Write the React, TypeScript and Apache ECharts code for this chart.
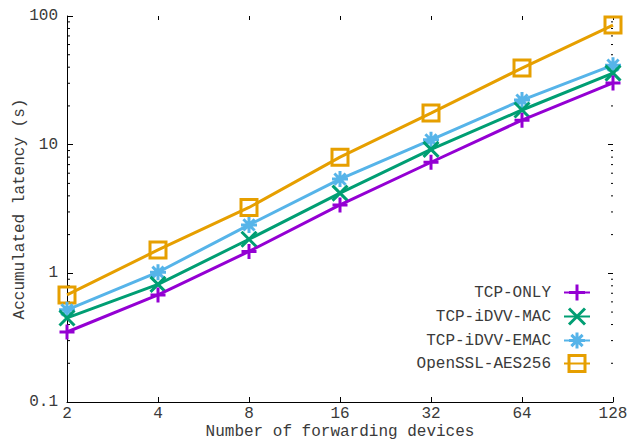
import React, { useEffect, useRef } from "react";
import * as echarts from "echarts";

const devices = [2, 4, 8, 16, 32, 64, 128];
const tcpOnly = [0.35, 0.68, 1.48, 3.4, 7.3, 15.5, 30.2];
const idvvMac = [0.45, 0.82, 1.84, 4.2, 9.2, 18.6, 36.0];
const idvvEmac = [0.52, 1.02, 2.38, 5.4, 10.9, 22.2, 41.5];
const opensslAes = [0.68, 1.52, 3.25, 8.0, 17.6, 39.4, 85.0];
const seriesNames = ["TCP-ONLY", "TCP-iDVV-MAC", "TCP-iDVV-EMAC", "OpenSSL-AES256"];
const minorTickValues = [
  0.2, 0.3, 0.4, 0.5, 0.6, 0.7, 0.8, 0.9,
  2, 3, 4, 5, 6, 7, 8, 9,
  20, 30, 40, 50, 60, 70, 80, 90,
];

const FONT = "'Liberation Mono', 'DejaVu Sans Mono', monospace";
const TEXT = "#3a3a3a";
const colors = ["#9400d3", "#009e73", "#56b4e9", "#e69f00"];
const symbols = [
  "path://M50 0L50 100M0 50L100 50",
  "path://M0 0L100 100M100 0L0 100",
  "path://M50 0L50 100M0 50L100 50M15 15L85 85M85 15L15 85",
  "path://M0 0L100 0L100 100L0 100Z",
];
const symbolSizes = [15, 15, 16, 16];
const seriesData = [tcpOnly, idvvMac, idvvEmac, opensslAes];

export default function App() {
  const ref = useRef<HTMLDivElement>(null);
  useEffect(() => {
    document.body.style.margin = "0";
    if (!ref.current) return;
    const chart = echarts.init(ref.current, null, { renderer: "svg" });
    const lineSeries = seriesNames.map((name, i) => ({
      name,
      type: "line",
      xAxisIndex: 0,
      yAxisIndex: 0,
      data: devices.map((d, j) => [d, seriesData[i][j]]),
      symbol: symbols[i],
      symbolSize: symbolSizes[i],
      color: colors[i],
      lineStyle: { color: colors[i], width: 3 },
      itemStyle: { color: "transparent", borderColor: colors[i], borderWidth: 3 },
      emphasis: { disabled: true },
      z: 10 - i,
    }));
    const minorData: number[][] = [];
    minorTickValues.forEach((v) => {
      minorData.push([2, v]);
      minorData.push([128, v]);
    });
    const legendTops = [278, 302, 326, 349];
    chart.setOption({
      animation: false,
      grid: { left: 67, right: 16, top: 16, bottom: 40, outerBoundsMode: "none", containLabel: false },
      legend: seriesNames.map((name, i) => ({
        data: [name],
        orient: "vertical",
        right: 33,
        top: legendTops[i],
        align: "right",
        itemWidth: 26,
        itemHeight: 20,
        selectedMode: false,
        itemStyle: { borderWidth: 3 },
        textStyle: {
          fontFamily: FONT,
          fontSize: 16,
          color: TEXT,
          padding: [0, 8, 0, 0],
        },
      })),
      xAxis: [
        {
          type: "log",
          logBase: 2,
          min: 2,
          max: 128,
          position: "bottom",
          name: "Number of forwarding devices",
          nameLocation: "middle",
          nameGap: 22,
          nameMoveOverlap: false,
          nameTextStyle: { fontFamily: FONT, fontSize: 16, color: TEXT },
          axisLine: { show: true, lineStyle: { color: "#000", width: 1 } },
          axisTick: { show: true, inside: true, length: 5, lineStyle: { color: "#000" } },
          axisLabel: { fontFamily: FONT, fontSize: 16, color: TEXT, margin: 4 },
          splitLine: { show: false },
        },
        {
          type: "log",
          logBase: 2,
          min: 2,
          max: 128,
          position: "top",
          axisLine: { show: false },
          axisTick: { show: true, inside: true, length: 4, lineStyle: { color: "#000" } },
          axisLabel: { show: false },
          splitLine: { show: false },
        },
      ],
      yAxis: [
        {
          type: "log",
          logBase: 10,
          min: 0.1,
          max: 100,
          position: "left",
          name: "Accumulated latency (s)",
          nameLocation: "middle",
          nameGap: 39,
          nameMoveOverlap: false,
          nameTextStyle: { fontFamily: FONT, fontSize: 16, color: TEXT },
          axisLine: { show: true, lineStyle: { color: "#000", width: 1 } },
          axisTick: { show: true, inside: true, length: 6, lineStyle: { color: "#000" } },
          axisLabel: { fontFamily: FONT, fontSize: 16, color: TEXT, margin: 9 },
          splitLine: { show: false },
        },
        {
          type: "log",
          logBase: 10,
          min: 0.1,
          max: 100,
          position: "right",
          axisLine: { show: false },
          axisTick: { show: true, inside: true, length: 5, lineStyle: { color: "#000" } },
          axisLabel: { show: false },
          splitLine: { show: false },
        },
      ],
      series: [
        ...lineSeries,
        {
          type: "custom",
          silent: true,
          xAxisIndex: 0,
          yAxisIndex: 0,
          data: minorData,
          clip: false,
          z: 1,
          renderItem: (params: any, api: any) => {
            const x = api.value(0);
            const v = api.value(1);
            const p = api.coord([x, v]);
            const left = x === 2;
            const len = left ? 3 : 2;
            return {
              type: "line",
              shape: { x1: p[0], y1: p[1], x2: p[0] + (left ? len : -len), y2: p[1] },
              style: { stroke: "#000", lineWidth: 1 },
            };
          },
        },
      ],
    });
    return () => chart.dispose();
  }, []);
  return <div ref={ref} style={{ width: 629, height: 442 }} />;
}
